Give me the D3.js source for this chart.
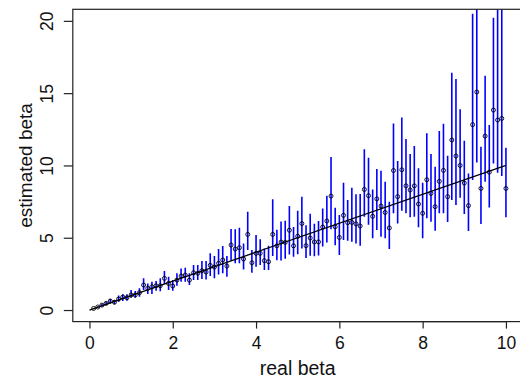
<!DOCTYPE html>
<html><head><meta charset="utf-8">
<script src="https://cdn.jsdelivr.net/npm/d3@7/dist/d3.min.js"></script>
<style>html,body{margin:0;padding:0;background:#fff;}svg{display:block;font-family:"Liberation Sans",Arial,sans-serif;}</style>
</head><body><svg id="chart" width="520" height="378"></svg>
<script>
const realBeta = [0.1,0.2,0.3,0.4,0.5,0.6,0.7,0.8,0.9,1.0,1.1,1.2,1.3,1.4,1.5,1.6,1.7,1.8,1.9,2.0,
2.1,2.2,2.3,2.4,2.5,2.6,2.7,2.8,2.9,3.0,3.1,3.2,3.3,3.4,3.5,3.6,3.7,3.8,3.9,4.0,
4.1,4.2,4.3,4.4,4.5,4.6,4.7,4.8,4.9,5.0,5.1,5.2,5.3,5.4,5.5,5.6,5.7,5.8,5.9,6.0,
6.1,6.2,6.3,6.4,6.5,6.6,6.7,6.8,6.9,7.0,7.1,7.2,7.3,7.4,7.5,7.6,7.7,7.8,7.9,8.0,
8.1,8.2,8.3,8.4,8.5,8.6,8.7,8.8,8.9,9.0,9.1,9.2,9.3,9.4,9.5,9.6,9.7,9.8,9.9,10.0];
const estBeta = [0.11,0.21,0.34,0.46,0.62,0.54,0.76,0.90,0.85,1.04,1.04,1.20,1.73,1.50,1.61,1.68,1.68,2.19,1.84,1.66,
2.07,2.35,2.42,2.07,2.58,2.54,2.72,2.63,3.09,2.97,3.23,3.46,3.04,4.50,4.22,4.31,3.53,5.23,3.27,3.92,
3.92,3.41,3.34,5.23,4.44,4.70,4.68,5.52,4.44,5.10,5.98,4.45,4.98,4.71,4.71,5.74,6.16,7.88,5.76,5.02,
6.55,6.04,6.06,5.96,5.81,8.34,7.91,6.48,7.69,7.19,6.75,5.68,9.65,7.84,9.70,8.59,8.30,8.59,7.33,6.69,
9.01,8.07,7.15,8.90,9.66,7.84,11.76,10.65,10.00,8.78,7.22,12.82,15.08,8.41,12.03,9.54,13.83,13.14,13.25,8.41];
const lowerCI = [0.08,0.16,0.26,0.36,0.46,0.40,0.58,0.62,0.65,0.85,0.85,0.92,1.38,1.11,1.11,1.34,1.30,1.80,1.38,1.34,
1.68,1.96,1.96,1.73,2.07,2.07,2.15,2.12,2.36,2.20,2.45,2.54,2.31,3.41,3.23,3.23,2.81,4.15,2.58,3.00,
3.11,2.77,2.77,3.73,3.44,3.43,3.54,3.84,3.69,3.86,4.25,3.60,3.75,3.72,3.78,4.40,4.67,5.58,4.48,3.80,
4.84,4.80,4.73,4.61,4.44,6.45,5.90,4.96,5.53,5.07,4.96,4.22,6.69,5.99,6.87,6.69,6.41,6.45,5.72,4.96,
6.34,6.11,5.49,6.69,6.69,6.09,7.61,7.26,7.77,6.64,5.46,8.99,10.21,5.95,8.88,7.10,10.14,9.50,9.27,6.41];
const upperCI = [0.14,0.27,0.43,0.58,0.78,0.70,1.00,1.10,1.10,1.38,1.31,1.50,2.19,1.84,1.96,2.01,2.19,2.70,2.31,2.07,
2.54,2.88,2.93,2.54,3.11,3.11,3.40,3.40,3.92,3.73,4.22,4.43,3.73,5.60,5.58,5.69,4.61,6.80,4.15,5.19,
4.89,4.26,4.45,7.66,5.55,6.13,6.18,7.19,5.74,6.86,7.84,5.86,6.66,5.96,6.16,7.03,7.90,10.58,7.08,6.57,
8.81,7.61,8.46,8.00,8.02,11.12,10.53,8.34,9.75,9.64,8.87,7.49,12.91,10.30,13.32,11.83,10.79,11.34,9.80,8.81,
12.22,10.79,9.91,12.38,12.89,10.67,16.41,15.98,13.88,11.71,9.45,20.5,23.0,11.30,16.21,12.79,20.22,21.5,22.5,11.23];
const xTicks = [0,2,4,6,8,10];
const yTicks = [0,5,10,15,20];
const identityLine = [0,10];
const xTitle = "real beta";
const yTitle = "estimated beta";

const svg = d3.select("#chart");
const x = d3.scaleLinear().domain([-0.4, 10.4]).range([72.8, 522.6]);
const y = d3.scaleLinear().domain([-0.8, 20.8]).range([321.6, 9.3]);

svg.append("defs").append("clipPath").attr("id","clip")
  .append("rect").attr("x",72.8).attr("y",9.3).attr("width",449.8).attr("height",312.3);

const data = realBeta.map((b,i)=>({b, est:estBeta[i], lo:lowerCI[i], hi:upperCI[i]}));
const plot = svg.append("g").attr("clip-path","url(#clip)");

plot.selectAll("line.bar").data(data).enter().append("line").attr("class","bar")
  .attr("x1",d=>x(d.b)).attr("x2",d=>x(d.b))
  .attr("y1",d=>y(d.lo)).attr("y2",d=>y(d.hi))
  .attr("stroke","#0000ff").attr("stroke-width",1.6);

plot.selectAll("circle").data(data).enter().append("circle")
  .attr("cx",d=>x(d.b)).attr("cy",d=>y(d.est)).attr("r",2)
  .attr("fill","none").attr("stroke","#000").attr("stroke-width",0.9);

plot.append("line")
  .attr("x1",x(identityLine[0])).attr("y1",y(identityLine[0]))
  .attr("x2",x(identityLine[1])).attr("y2",y(identityLine[1]))
  .attr("stroke","#000").attr("stroke-width",1.3);

// box
svg.append("rect").attr("x",72.8).attr("y",9.3).attr("width",449.8).attr("height",312.3)
  .attr("fill","none").attr("stroke","#222").attr("stroke-width",1.2);

const xAxis = svg.append("g").attr("transform","translate(0,321.6)")
  .call(d3.axisBottom(x).tickValues(xTicks).tickSize(7).tickPadding(8).tickFormat(d3.format("d")));
xAxis.select(".domain").attr("d",`M${x(0)},0H${x(10)}`).attr("stroke","#222").attr("stroke-width",1.2);
xAxis.selectAll(".tick line").attr("stroke","#222").attr("stroke-width",1.2);
xAxis.selectAll("text").attr("font-size",17.5).attr("fill","#111").attr("font-family","Liberation Sans, Arial, sans-serif");

const yAxis = svg.append("g").attr("transform","translate(72.8,0)")
  .call(d3.axisLeft(y).tickValues(yTicks).tickSize(9).tickFormat(d3.format("d")));
yAxis.select(".domain").remove();
yAxis.selectAll(".tick line").attr("stroke","#222").attr("stroke-width",1.2);
yAxis.selectAll("text").remove();
yAxis.selectAll(".tick").append("text")
  .attr("transform","translate(-20,0) rotate(-90)")
  .attr("text-anchor","middle").attr("dy","0")
  .attr("font-size",17.5).attr("fill","#111").attr("font-family","Liberation Sans, Arial, sans-serif")
  .text(d=>d);

svg.append("text").attr("x",x(5)).attr("y",375).attr("text-anchor","middle")
  .attr("font-size",19.5).attr("fill","#111").text(xTitle);
svg.append("text").attr("transform",`translate(32,${y(10)}) rotate(-90)`).attr("text-anchor","middle")
  .attr("font-size",19).attr("fill","#111").text(yTitle);
</script></body></html>
